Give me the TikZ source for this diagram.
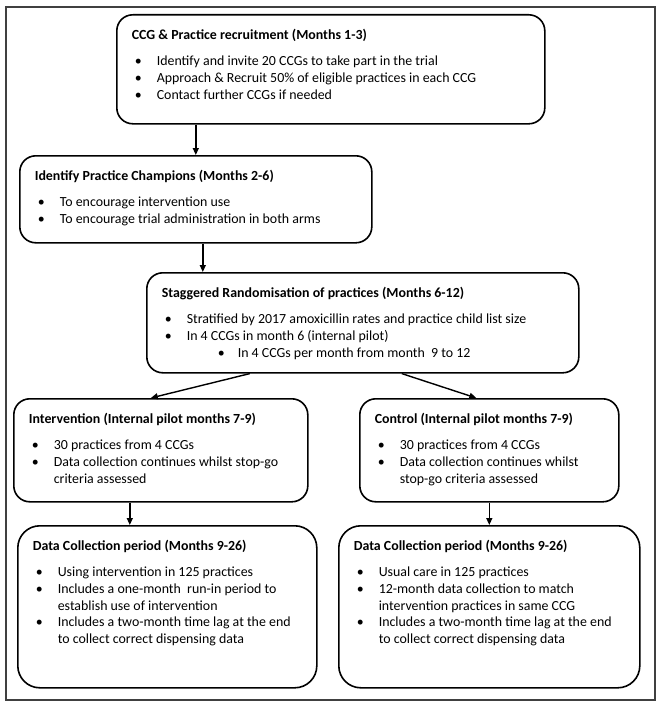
\documentclass[tikz,border=0pt]{standalone}
\usepackage{fontspec}
\setmainfont{Carlito}
\usepackage{tikz}
\usetikzlibrary{arrows.meta}
\def\itm#1{\par\hangindent=25pt\hangafter=1\noindent\makebox[25pt][l]{\hspace{3pt}\textbullet}#1}
\def\subitm#1{\par\hangindent=76pt\hangafter=1\noindent\makebox[76pt][l]{\hspace{56pt}\textbullet}#1}
\def\panel#1#2#3#4{\hspace*{15pt}\parbox[c][#2pt][t]{\dimexpr#1pt-15pt\relax}{\raggedright\rule{0pt}{25pt}\textbf{#3}\par\vspace{8.8pt}#4}}

\begin{document}
\begin{tikzpicture}[x=1pt, y=-1pt,
		stage/.style={draw, line width=1.6pt, rounded corners=16pt, inner sep=0pt, anchor=north west, font=\fontsize{13.9pt}{16.8pt}\selectfont},
		flow/.style={line width=1.4pt, -{Triangle[length=7pt, width=6pt]}}]
			%%%%% START %%%%%
			
			\useasboundingbox (0,0) rectangle (661,709);
			\draw[line width=1.2pt, color=black!75] (6,7) rectangle (655,700);
			
			\node[stage] (recruit) at (116,14) {\panel{428}{109}{CCG \& Practice recruitment (Months 1-3)}{%
				\itm{Identify and invite 20 CCGs to take part in the trial}%
				\itm{Approach \& Recruit 50\% of eligible practices in each CCG}%
				\itm{Contact further CCGs if needed}}};
			
			\node[stage] (champion) at (19,155) {\panel{352}{87}{Identify Practice Champions (Months 2-6)}{%
				\itm{To encourage intervention use}%
				\itm{To encourage trial administration in both arms}}};
			
			\node[stage] (random) at (146,272) {\panel{432}{100}{Staggered Randomisation of practices (Months 6-12)}{%
				\itm{Stratified by 2017 amoxicillin rates and practice child list size}%
				\itm{In 4 CCGs in month 6 (internal pilot)}%
				\subitm{In 4 CCGs per month from month~ 9 to 12}}};
			
			\node[stage] (interv) at (13,398) {\panel{294}{103}{Intervention (Internal pilot months 7-9)}{%
				\itm{30 practices from 4 CCGs}%
				\itm{Data collection continues whilst stop-go\newline criteria assessed}}};
			
			\node[stage] (control) at (359,398) {\panel{259}{103}{Control (Internal pilot months 7-9)}{%
				\itm{30 practices from 4 CCGs}%
				\itm{Data collection continues whilst\newline stop-go criteria assessed}}};
			
			\node[stage, rounded corners=22pt] (intervdata) at (17,525) {\panel{299}{162}{Data Collection period (Months 9-26)}{%
				\itm{Using intervention in 125 practices}%
				\itm{Includes a one-month~ run-in period to\newline establish use of intervention}%
				\itm{Includes a two-month time lag at the end\newline to collect correct dispensing data}}};
			
			\node[stage, rounded corners=22pt] (controldata) at (338,525) {\panel{301}{162}{Data Collection period (Months 9-26)}{%
				\itm{Usual care in 125 practices}%
				\itm{12-month data collection to match\newline intervention practices in same CCG}%
				\itm{Includes a two-month time lag at the end\newline to collect correct dispensing data}}};
			
			\draw[flow] (recruit.south -| champion.north) -- (champion.north);
			\draw[flow] ([xshift=7pt]champion.south) -- ([xshift=7pt]champion.south |- random.north);
			\draw[flow] ([xshift=-113pt]random.south) -- ([xshift=-10pt]interv.north);
			\draw[flow] ([xshift=39pt]random.south) -- ([xshift=-13pt]control.north);
			\draw[flow] ([xshift=-31pt]interv.south) -- ([xshift=-31pt]interv.south |- intervdata.north);
			\draw[flow] (control.south) -- (control.south |- controldata.north);
			
			%%%%% END %%%%%
\end{tikzpicture}
\end{document}
